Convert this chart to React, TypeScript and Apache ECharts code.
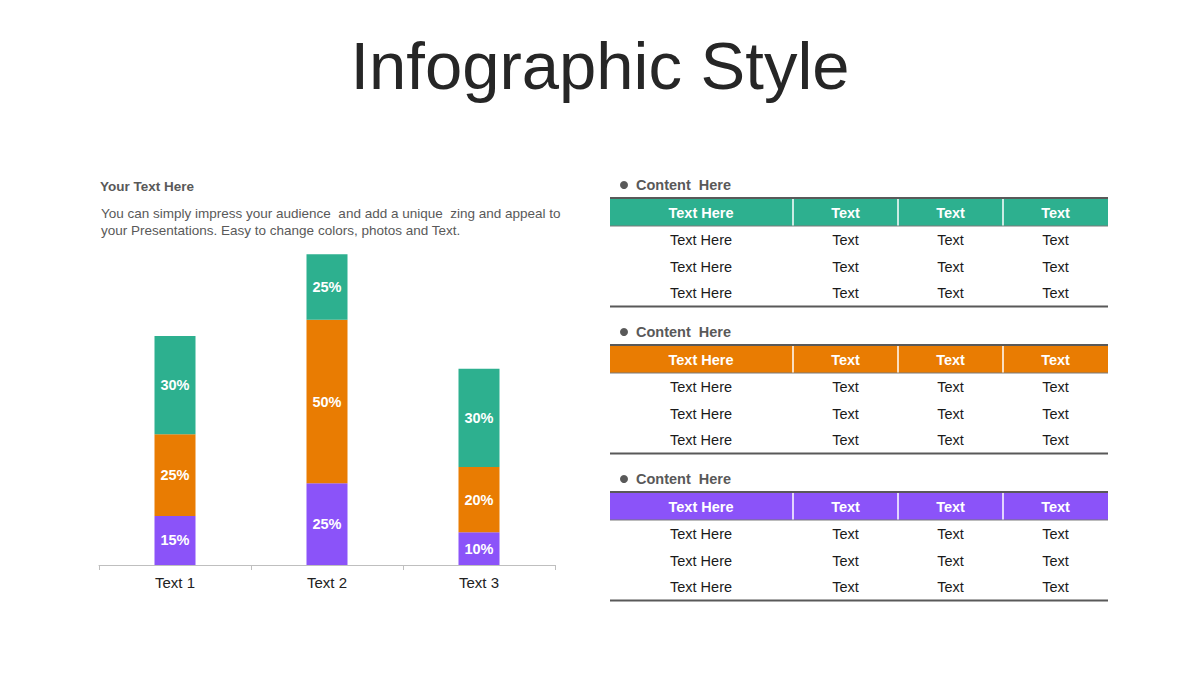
import React, { useEffect, useRef } from "react";
import * as echarts from "echarts";

const FONT = "'Liberation Sans', Arial, sans-serif";

const categories = ["Text 1", "Text 2", "Text 3"];
const purpleValues = [15, 25, 10];
const orangeValues = [25, 50, 20];
const greenValues = [30, 20, 30];
const purpleLabels = ["15%", "25%", "10%"];
const orangeLabels = ["25%", "50%", "20%"];
const greenLabels = ["30%", "25%", "30%"];

const GREEN = "#2db08f";
const ORANGE = "#e97c02";
const PURPLE = "#8b53f9";

const title = "Infographic Style";
const leftHeading = "Your Text Here";
const leftParagraph = [
  "You can simply impress your audience  and add a unique  zing and appeal to",
  "your Presentations. Easy to change colors, photos and Text.",
];

const tableTitles = ["Content  Here", "Content  Here", "Content  Here"];
const tableColors = [GREEN, ORANGE, PURPLE];
const tableHeader = ["Text Here", "Text", "Text", "Text"];
const tableRows = [
  ["Text Here", "Text", "Text", "Text"],
  ["Text Here", "Text", "Text", "Text"],
  ["Text Here", "Text", "Text", "Text"],
];

export default function App() {
  const ref = useRef<HTMLDivElement>(null);

  useEffect(() => {
    if (!ref.current) return;
    const chart = echarts.init(ref.current, null, { renderer: "svg" });

    const graphics: any[] = [];
    graphics.push({
      type: "text",
      left: "center",
      top: 32,
      style: { text: title, font: `67px ${FONT}`, fill: "#262626" },
    });
    graphics.push({
      type: "text",
      x: 100,
      y: 186,
      style: {
        text: leftHeading,
        font: `bold 13.5px ${FONT}`,
        fill: "#595959",
        verticalAlign: "middle",
        align: "left",
      },
    });
    leftParagraph.forEach((line, i) => {
      graphics.push({
        type: "text",
        x: 101,
        y: 213 + i * 17,
        style: {
          text: line,
          font: `13.5px ${FONT}`,
          fill: "#595959",
          verticalAlign: "middle",
          align: "left",
        },
      });
    });

    const xLeft = 610;
    const xRight = 1108;
    const dividers = [793, 898, 1003];
    const colCenters = [701, 845.5, 950.5, 1055.5];
    const rowOffsets = [42, 69, 95];

    tableColors.forEach((color, t) => {
      const T = 198 + t * 147;
      graphics.push({
        type: "circle",
        shape: { cx: 624, cy: T - 13, r: 4 },
        style: { fill: "#595959" },
      });
      graphics.push({
        type: "text",
        x: 636,
        y: T - 13,
        style: {
          text: tableTitles[t],
          font: `bold 14.5px ${FONT}`,
          fill: "#595959",
          verticalAlign: "middle",
          align: "left",
        },
      });
      graphics.push({
        type: "rect",
        shape: { x: xLeft, y: T, width: xRight - xLeft, height: 28 },
        style: { fill: color },
      });
      graphics.push({
        type: "line",
        shape: { x1: xLeft, y1: T, x2: xRight, y2: T },
        style: { stroke: "#595959", lineWidth: 2 },
      });
      graphics.push({
        type: "line",
        shape: { x1: xLeft, y1: T + 28, x2: xRight, y2: T + 28 },
        style: { stroke: "#7a7a7a", lineWidth: 1.2 },
      });
      dividers.forEach((dx) => {
        graphics.push({
          type: "line",
          shape: { x1: dx, y1: T + 1, x2: dx, y2: T + 27.5 },
          style: { stroke: "#ffffff", lineWidth: 1.5 },
        });
      });
      tableHeader.forEach((h, c) => {
        graphics.push({
          type: "text",
          x: colCenters[c],
          y: T + 15,
          style: {
            text: h,
            font: `bold 14.5px ${FONT}`,
            fill: "#ffffff",
            align: "center",
            verticalAlign: "middle",
          },
        });
      });
      tableRows.forEach((row, r) => {
        row.forEach((cell, c) => {
          graphics.push({
            type: "text",
            x: colCenters[c],
            y: T + rowOffsets[r],
            style: {
              text: cell,
              font: `14.5px ${FONT}`,
              fill: "#1a1a1a",
              align: "center",
              verticalAlign: "middle",
            },
          });
        });
      });
      graphics.push({
        type: "line",
        shape: { x1: xLeft, y1: T + 108.5, x2: xRight, y2: T + 108.5 },
        style: { stroke: "#595959", lineWidth: 2 },
      });
    });

    const labelStyle = (labels: string[]) => ({
      show: true,
      position: "inside",
      color: "#ffffff",
      fontWeight: "bold",
      fontSize: 14.5,
      fontFamily: FONT,
      formatter: (p: any) => labels[p.dataIndex],
    });

    chart.setOption({
      animation: false,
      backgroundColor: "#ffffff",
      grid: { left: 99, right: 645, top: 238, bottom: 110, containLabel: false },
      xAxis: {
        type: "category",
        data: categories,
        axisLine: { lineStyle: { color: "#bfbfbf", width: 1 } },
        axisTick: { show: true, length: 5, lineStyle: { color: "#bfbfbf" } },
        axisLabel: { color: "#222222", fontSize: 15, fontFamily: FONT, margin: 10 },
      },
      yAxis: {
        type: "value",
        min: 0,
        max: 100,
        show: false,
        splitLine: { show: false },
      },
      series: [
        {
          type: "bar",
          stack: "total",
          barWidth: 41,
          data: purpleValues,
          itemStyle: { color: PURPLE },
          label: labelStyle(purpleLabels),
        },
        {
          type: "bar",
          stack: "total",
          barWidth: 41,
          data: orangeValues,
          itemStyle: { color: ORANGE },
          label: labelStyle(orangeLabels),
        },
        {
          type: "bar",
          stack: "total",
          barWidth: 41,
          data: greenValues,
          itemStyle: { color: GREEN },
          label: labelStyle(greenLabels),
        },
      ],
      graphic: graphics,
    });

    return () => chart.dispose();
  }, []);

  return (
    <div
      ref={ref}
      style={{ position: "fixed", left: 0, top: 0, width: 1200, height: 675, background: "#fff" }}
    />
  );
}
